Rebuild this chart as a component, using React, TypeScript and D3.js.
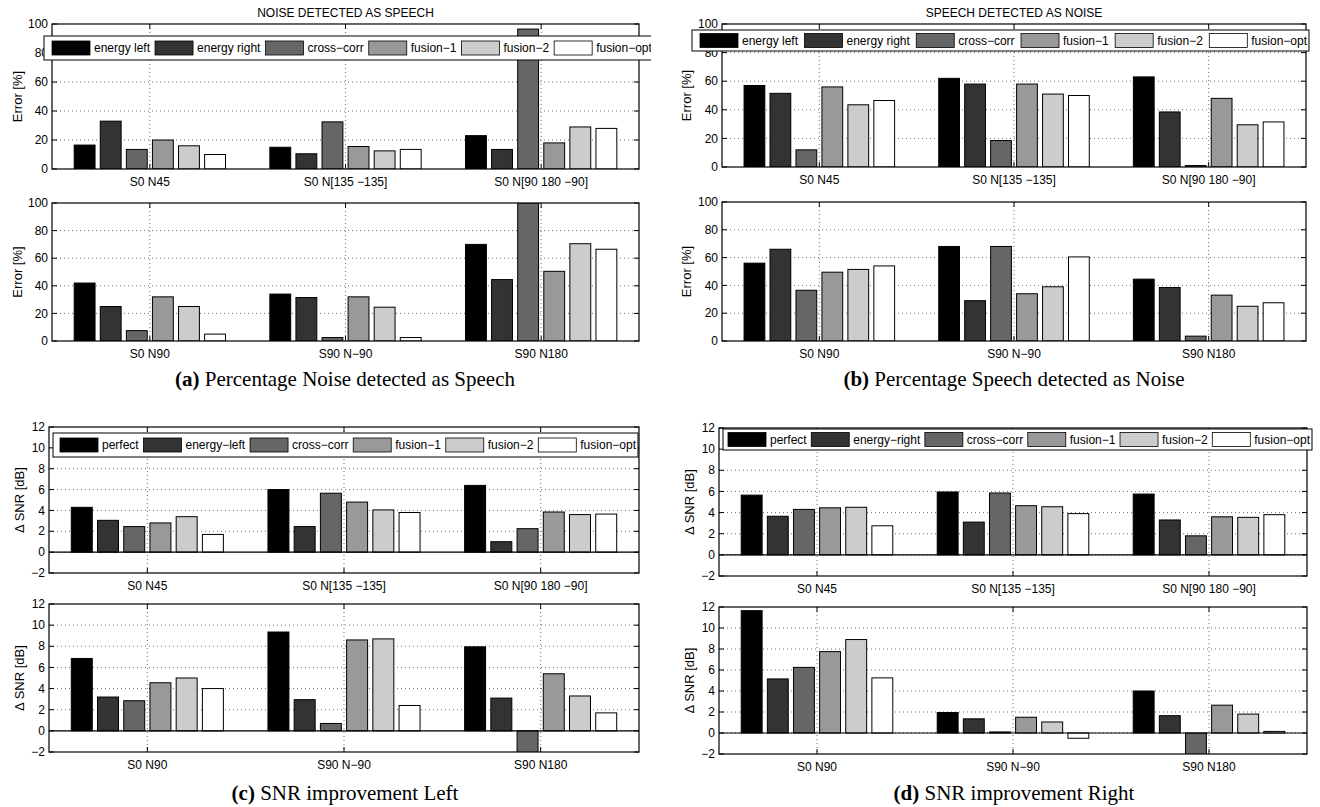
import React from 'react';
import * as d3 from 'd3';

// ---------- data ----------
const errorSeries = ['energy left', 'energy right', 'cross−corr', 'fusion−1', 'fusion−2', 'fusion−opt'];
const snrLeftSeries = ['perfect', 'energy−left', 'cross−corr', 'fusion−1', 'fusion−2', 'fusion−opt'];
const snrRightSeries = ['perfect', 'energy−right', 'cross−corr', 'fusion−1', 'fusion−2', 'fusion−opt'];
const topCats = ['S0 N45', 'S0 N[135 −135]', 'S0 N[90 180 −90]'];
const bottomCats = ['S0 N90', 'S90 N−90', 'S90 N180'];
const errorTicks = [0, 20, 40, 60, 80, 100];
const snrTicks = [-2, 0, 2, 4, 6, 8, 10, 12];
const barFills = ['#000000', '#333333', '#666666', '#999999', '#cccccc', '#ffffff'];

// rows = scenario groups, columns = series
const noiseAsSpeechTop = [
  [16.5, 33, 13.5, 20, 16, 10],
  [15, 10.5, 32.5, 15.5, 12.5, 13.5],
  [23, 13.5, 96.5, 18, 29, 28],
];
const noiseAsSpeechBottom = [
  [42, 25, 7.5, 32, 25, 5],
  [34, 31.5, 2.5, 32, 24.5, 2.5],
  [70, 44.5, 100, 50.5, 70.5, 66.5],
];
const speechAsNoiseTop = [
  [57, 51.5, 12, 56, 43.5, 46.5],
  [62, 58, 18.5, 58, 51, 50],
  [63, 38.5, 1, 48, 29.5, 31.5],
];
const speechAsNoiseBottom = [
  [56, 66, 36.5, 49.5, 51.5, 54],
  [68, 29, 68, 34, 39, 60.5],
  [44.5, 38.5, 3.5, 33, 25, 27.5],
];
const snrLeftTop = [
  [4.3, 3.05, 2.45, 2.8, 3.4, 1.7],
  [6.0, 2.45, 5.65, 4.8, 4.05, 3.8],
  [6.4, 1.0, 2.25, 3.85, 3.6, 3.65],
];
const snrLeftBottom = [
  [6.85, 3.2, 2.85, 4.55, 5.0, 4.0],
  [9.35, 2.95, 0.7, 8.6, 8.7, 2.4],
  [7.95, 3.1, -2.5, 5.4, 3.3, 1.7],
];
const snrRightTop = [
  [5.65, 3.65, 4.3, 4.45, 4.5, 2.75],
  [5.95, 3.1, 5.85, 4.65, 4.55, 3.9],
  [5.75, 3.3, 1.8, 3.6, 3.55, 3.8],
];
const snrRightBottom = [
  [11.65, 5.15, 6.25, 7.75, 8.9, 5.25],
  [1.95, 1.35, 0.1, 1.5, 1.05, -0.5],
  [4.0, 1.65, -2.5, 2.65, 1.8, 0.15],
];

// ---------- drawing ----------
const SANS = '"Liberation Sans", Arial, Helvetica, sans-serif';
const SERIF = '"Liberation Serif", "Times New Roman", serif';
const FS = 12;

function measure(text: string, size: number): number {
  try {
    const c = document.createElement('canvas').getContext('2d');
    if (!c) return text.length * size * 0.55;
    c.font = `${size}px "Liberation Sans"`;
    return c.measureText(text).width;
  } catch (e) {
    return text.length * size * 0.55;
  }
}

type LegendSpec = {
  series: string[];
  x: number;
  y: number;
  w: number;
  h: number;
  padL: number;
  gap?: number;
  clipRight?: number;
};

type PanelProps = {
  id: string;
  box: [number, number, number, number];
  domain: [number, number];
  ticks: number[];
  cats: string[];
  values: number[][];
  yLabel: string;
  yLabelX: number;
  title?: string;
  legend?: LegendSpec;
  zeroLine?: boolean;
};

function Legend({ spec, id }: { spec: LegendSpec; id: string }) {
  const patchW = 38;
  const patchH = 14;
  const textOff = 42;
  const widths = spec.series.map((s) => measure(s, FS));
  let gap = spec.gap;
  if (gap === undefined) {
    const used = widths.reduce((a, b) => a + b + textOff, 0);
    gap = (spec.w - spec.padL - 2 - used) / (spec.series.length - 1);
  }
  let cx = spec.x + spec.padL;
  const items = spec.series.map((s, i) => {
    const it = { s, x: cx, fill: barFills[i] };
    cx += textOff + widths[i] + (gap as number);
    return it;
  });
  const cy = spec.y + spec.h / 2;
  return (
    <g clipPath={spec.clipRight ? `url(#lc-${id})` : undefined}>
      {spec.clipRight ? (
        <defs>
          <clipPath id={`lc-${id}`}>
            <rect x={0} y={0} width={spec.clipRight} height={807} />
          </clipPath>
        </defs>
      ) : null}
      <rect x={spec.x} y={spec.y} width={spec.w} height={spec.h} fill="#fff" stroke="#000" strokeWidth={1} />
      {items.map((it, i) => (
        <g key={i}>
          <rect x={it.x} y={cy - patchH / 2} width={patchW} height={patchH} fill={it.fill} stroke="#000" strokeWidth={0.8} />
          <text x={it.x + textOff} y={cy} dy="0.35em" fontFamily={SANS} fontSize={FS} fill="#000">
            {it.s}
          </text>
        </g>
      ))}
    </g>
  );
}

function Panel(p: PanelProps) {
  const [x0, y0, x1, y1] = p.box;
  const x = d3.scaleLinear().domain([0.5, p.cats.length + 0.5]).range([x0, x1]);
  const y = d3.scaleLinear().domain(p.domain).range([y1, y0]);
  const n = p.values[0].length;
  const step = 0.8 / n;
  const bw = step * 0.8;
  const fmt = d3.format('d');
  const tickLen = 5;
  const centers = p.cats.map((_, i) => i + 1);
  const clipId = `clip-${p.id}`;
  return (
    <g>
      <defs>
        <clipPath id={clipId}>
          <rect x={x0} y={y0} width={x1 - x0} height={y1 - y0} />
        </clipPath>
      </defs>
      <rect x={x0} y={y0} width={x1 - x0} height={y1 - y0} fill="#fff" />
      {/* grid */}
      {p.ticks
        .filter((t) => t !== p.domain[0] && t !== p.domain[1])
        .map((t) => (
          <line key={'gy' + t} x1={x0} x2={x1} y1={y(t)} y2={y(t)} stroke="#333" strokeWidth={0.7} strokeDasharray="1,3" />
        ))}
      {centers.map((c) => (
        <line key={'gx' + c} x1={x(c)} x2={x(c)} y1={y0} y2={y1} stroke="#333" strokeWidth={0.7} strokeDasharray="1,3" />
      ))}
      {/* bars */}
      <g clipPath={`url(#${clipId})`}>
        {p.values.map((row, g) =>
          row.map((v, i) => {
            const cx = g + 1 + (i - (n - 1) / 2) * step;
            const xa = x(cx - bw / 2);
            const xb = x(cx + bw / 2);
            const ya = y(Math.max(0, v));
            const yb = y(Math.min(0, v));
            return (
              <rect
                key={`b${g}-${i}`}
                x={xa}
                y={ya}
                width={xb - xa}
                height={yb - ya}
                fill={barFills[i]}
                stroke="#000"
                strokeWidth={1}
              />
            );
          })
        )}
      </g>
      {p.zeroLine ? <line x1={x0} x2={x1} y1={y(0)} y2={y(0)} stroke="#000" strokeWidth={1.2} /> : null}
      {/* box */}
      <rect x={x0} y={y0} width={x1 - x0} height={y1 - y0} fill="none" stroke="#000" strokeWidth={1.2} />
      {/* ticks */}
      {p.ticks.map((t) => (
        <g key={'ty' + t}>
          <line x1={x0} x2={x0 + tickLen} y1={y(t)} y2={y(t)} stroke="#000" strokeWidth={1} />
          <line x1={x1} x2={x1 - tickLen} y1={y(t)} y2={y(t)} stroke="#000" strokeWidth={1} />
          <text x={x0 - 4} y={y(t)} dy="0.35em" textAnchor="end" fontFamily={SANS} fontSize={FS} fill="#000">
            {fmt(t)}
          </text>
        </g>
      ))}
      {centers.map((c, i) => (
        <g key={'tx' + c}>
          <line x1={x(c)} x2={x(c)} y1={y1} y2={y1 - tickLen} stroke="#000" strokeWidth={1} />
          <line x1={x(c)} x2={x(c)} y1={y0} y2={y0 + tickLen} stroke="#000" strokeWidth={1} />
          <text x={x(c)} y={y1 + 13} dy="0.35em" textAnchor="middle" fontFamily={SANS} fontSize={FS} fill="#000">
            {p.cats[i]}
          </text>
        </g>
      ))}
      <text
        transform={`translate(${p.yLabelX},${(y0 + y1) / 2}) rotate(-90)`}
        textAnchor="middle"
        dy="0.35em"
        fontFamily={SANS}
        fontSize={13}
        fill="#000"
      >
        {p.yLabel}
      </text>
      {p.title ? (
        <text x={(x0 + x1) / 2} y={y0 - 11} dy="0.35em" textAnchor="middle" fontFamily={SANS} fontSize={12} fill="#000">
          {p.title}
        </text>
      ) : null}
      {p.legend ? <Legend spec={p.legend} id={p.id} /> : null}
    </g>
  );
}

function Caption({ x, y, label, text }: { x: number; y: number; label: string; text: string }) {
  return (
    <text x={x} y={y} textAnchor="middle" fontFamily={SERIF} fontSize={21} fill="#000">
      <tspan fontWeight="bold">{label}</tspan>
      <tspan>{' ' + text}</tspan>
    </text>
  );
}

export default function App() {
  return (
    <div style={{ position: 'absolute', left: 0, top: 0 }}>
      <svg width={1320} height={807} viewBox="0 0 1320 807" style={{ display: 'block', background: '#fff' }}>
        <rect x={0} y={0} width={1320} height={807} fill="#fff" />
        <Panel
          id="a1"
          box={[52, 24, 639, 169]}
          domain={[0, 100]}
          ticks={errorTicks}
          cats={topCats}
          values={noiseAsSpeechTop}
          yLabel="Error [%]"
          yLabelX={17}
          title="NOISE DETECTED AS SPEECH"
          legend={{ series: errorSeries, x: 44, y: 36, w: 640, h: 24, padL: 8, gap: 5, clipRight: 651 }}
        />
        <Panel
          id="a2"
          box={[52, 203, 639, 341]}
          domain={[0, 100]}
          ticks={errorTicks}
          cats={bottomCats}
          values={noiseAsSpeechBottom}
          yLabel="Error [%]"
          yLabelX={17}
        />
        <Panel
          id="b1"
          box={[722, 24, 1306, 167]}
          domain={[0, 100]}
          ticks={errorTicks}
          cats={topCats}
          values={speechAsNoiseTop}
          yLabel="Error [%]"
          yLabelX={686}
          title="SPEECH DETECTED AS NOISE"
          legend={{ series: errorSeries, x: 692, y: 30, w: 617, h: 21, padL: 8 }}
        />
        <Panel
          id="b2"
          box={[722, 202, 1306, 341]}
          domain={[0, 100]}
          ticks={errorTicks}
          cats={bottomCats}
          values={speechAsNoiseBottom}
          yLabel="Error [%]"
          yLabelX={686}
        />
        <Panel
          id="c1"
          box={[49, 427, 639, 573]}
          domain={[-2, 12]}
          ticks={snrTicks}
          cats={topCats}
          values={snrLeftTop}
          yLabel="Δ SNR [dB]"
          yLabelX={19}
          zeroLine
          legend={{ series: snrLeftSeries, x: 53, y: 433, w: 585, h: 24, padL: 7 }}
        />
        <Panel
          id="c2"
          box={[49, 604, 639, 752]}
          domain={[-2, 12]}
          ticks={snrTicks}
          cats={bottomCats}
          values={snrLeftBottom}
          yLabel="Δ SNR [dB]"
          yLabelX={19}
          zeroLine
        />
        <Panel
          id="d1"
          box={[719, 428, 1307, 576]}
          domain={[-2, 12]}
          ticks={snrTicks}
          cats={topCats}
          values={snrRightTop}
          yLabel="Δ SNR [dB]"
          yLabelX={689}
          zeroLine
          legend={{ series: snrRightSeries, x: 723, y: 429, w: 589, h: 21, padL: 5 }}
        />
        <Panel
          id="d2"
          box={[719, 607, 1307, 754]}
          domain={[-2, 12]}
          ticks={snrTicks}
          cats={bottomCats}
          values={snrRightBottom}
          yLabel="Δ SNR [dB]"
          yLabelX={689}
          zeroLine
        />
        <Caption x={345} y={386} label="(a)" text="Percentage Noise detected as Speech" />
        <Caption x={1014} y={386} label="(b)" text="Percentage Speech detected as Noise" />
        <Caption x={345} y={800} label="(c)" text="SNR improvement Left" />
        <Caption x={1014} y={800} label="(d)" text="SNR improvement Right" />
      </svg>
    </div>
  );
}
